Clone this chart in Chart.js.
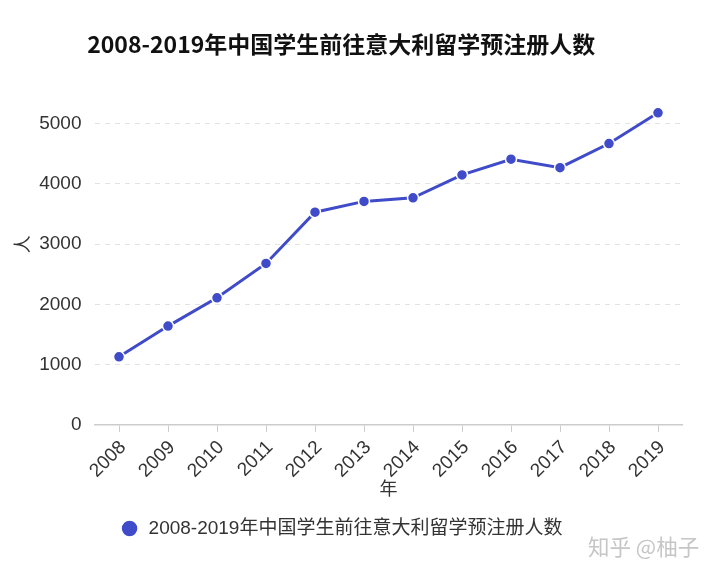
<!DOCTYPE html>
<html>
<head>
<meta charset="utf-8">
<script src="https://cdn.jsdelivr.net/npm/chart.js@4/dist/chart.umd.min.js"></script>
<style>
  html, body { margin: 0; padding: 0; background: #fff; }
  #wrap { width: 720px; height: 576px; }
</style>
</head>
<body>
<div id="wrap"><canvas id="italyChart" width="720" height="576"></canvas></div>
<script>
const chartTitle = '2008-2019年中国学生前往意大利留学预注册人数';
const years = ['2008', '2009', '2010', '2011', '2012', '2013', '2014', '2015', '2016', '2017', '2018', '2019'];
const registrations = [1130, 1640, 2110, 2680, 3530, 3710, 3770, 4150, 4410, 4270, 4670, 5180];
const yTicks = [0, 1000, 2000, 3000, 4000, 5000];

const blue = '#3f4bc8';
const cjk = '"Liberation Sans", "Noto Sans CJK SC", sans-serif';

// y axis name (drawn by hand so it can sit beside the 3000 line) and the watermark
const extras = {
  id: 'extras',
  afterDraw(chart) {
    const ctx = chart.ctx;
    ctx.save();
    ctx.fillStyle = '#333';
    ctx.font = '18px ' + cjk;
    ctx.textAlign = 'center';
    ctx.textBaseline = 'middle';
    ctx.translate(24, chart.scales.y.getPixelForValue(3000));
    ctx.rotate(-Math.PI / 2);
    ctx.fillText('人', 0, 0);
    ctx.restore();

    ctx.save();
    ctx.font = '21.5px "Noto Sans CJK SC", sans-serif';
    ctx.fillStyle = '#c6c6c6';
    ctx.textBaseline = 'middle';
    ctx.fillText('知乎 @柚子', 588, 547);
    ctx.restore();
  }
};

document.addEventListener("DOMContentLoaded", () => {
  const ctx = document.getElementById("italyChart").getContext("2d");

  new Chart(ctx, {
    type: 'line',
    data: {
      labels: years,
      datasets: [{
        label: chartTitle,
        data: registrations,
        borderColor: blue,
        backgroundColor: blue,
        pointBackgroundColor: blue,
        pointBorderColor: '#fff',
        pointBorderWidth: 1.5,
        pointRadius: 5.5,
        borderWidth: 3,
        tension: 0
      }]
    },
    options: {
      responsive: false,
      animation: false,
      layout: { padding: { left: 0, right: 37.5, top: 30, bottom: 28 } },
      plugins: {
        title: {
          display: true,
          text: chartTitle,
          color: '#111',
          font: { family: '"Noto Sans CJK SC", sans-serif', size: 23, weight: 'bold' },
          padding: { top: 0, bottom: 48 }
        },
        legend: {
          position: 'bottom',
          labels: {
            usePointStyle: true,
            pointStyle: 'circle',
            boxHeight: 12,
            color: '#333',
            font: { family: cjk, size: 19 },
            padding: 10
          }
        },
        tooltip: { enabled: false }
      },
      scales: {
        x: {
          offset: true,
          grid: { offset: false, drawOnChartArea: false, drawTicks: true, tickLength: 7, color: '#ccc' },
          border: { color: '#ccc', width: 1.5 },
          ticks: { color: '#333', font: { family: cjk, size: 19 }, maxRotation: 45, minRotation: 45, padding: 4.5, labelOffset: 4 },
          title: { display: true, text: '年', color: '#333', font: { family: cjk, size: 18 }, padding: { top: -7.5, bottom: 8 } }
        },
        y: {
          min: 0,
          max: 5300,
          afterBuildTicks: (axis) => { axis.ticks = yTicks.map(v => ({ value: v })); },
          afterFit: (axis) => { axis.width = 94.5; },
          grid: { color: '#e3e3e3', drawTicks: false, lineWidth: 1 },
          border: { display: false, dash: [5, 5] },
          ticks: { color: '#333', font: { family: cjk, size: 19 }, padding: 13, callback: (v) => String(v) }
        }
      }
    },
    plugins: [extras]
  });
});
</script>
</body>
</html>
